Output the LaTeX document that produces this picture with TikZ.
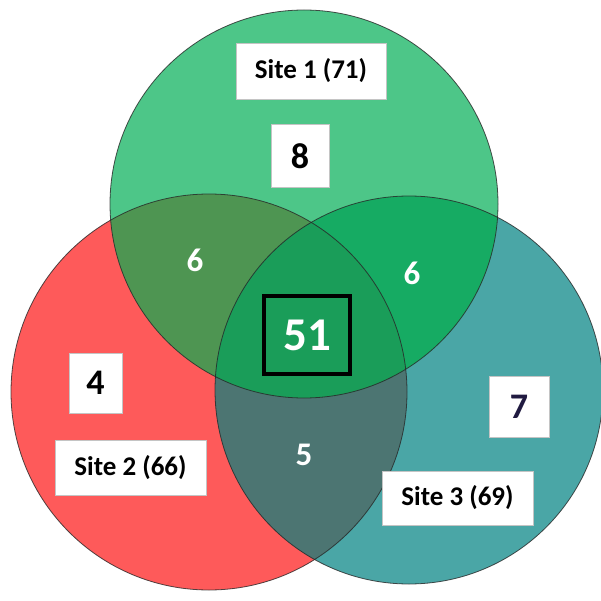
\documentclass[tikz,border=0pt]{standalone}
\usepackage{fontspec}
\setmainfont{Carlito}
\definecolor{redc}{HTML}{FE5A5A}
\definecolor{tealc}{HTML}{4AA6A6}
\definecolor{greenc}{HTML}{4DC688}
\definecolor{rgc}{HTML}{4E9552}
\definecolor{gtc}{HTML}{16AB63}
\definecolor{rtc}{HTML}{4C7572}
\definecolor{allc}{HTML}{1A9D59}
\definecolor{boxgray}{HTML}{C4C4C4}
\definecolor{sevenc}{HTML}{201A40}
\tikzset{
  outline/.style={draw=black!85, line width=0.8pt, draw opacity=0.8},
  lblbox/.style={draw=boxgray, fill=white, line width=0.8pt, inner sep=0pt, font=\fontsize{27}{30}\selectfont\bfseries},
  numbox/.style={draw=boxgray, fill=white, line width=0.8pt, inner sep=0pt, font=\fontsize{36}{38}\selectfont\bfseries},
  wnum/.style={text=white, font=\fontsize{33}{35}\selectfont\bfseries, inner sep=0pt}
}
\begin{document}
\begin{tikzpicture}[x=1pt,y=-1pt]
\useasboundingbox (0,0) rectangle (601,601);
\def\Gc{(304,204) circle (194)}
\def\Rc{(209,392) circle (198)}
\def\Tc{(409,390) circle (194)}
\fill[redc] \Rc;
\fill[tealc] \Tc;
\fill[greenc] \Gc;
\begin{scope}\clip \Rc; \fill[rgc] \Gc; \end{scope}
\begin{scope}\clip \Tc; \fill[gtc] \Gc; \end{scope}
\begin{scope}\clip \Rc; \fill[rtc] \Tc; \end{scope}
\begin{scope}\clip \Rc; \clip \Tc; \fill[allc] \Gc; \end{scope}
\draw[outline] \Rc;
\draw[outline] \Tc;
\draw[outline] \Gc;
% labels
\node[lblbox, minimum width=150, minimum height=56] (s1) at (311,71) {Site 1 (71)};
\node[numbox, minimum width=58, minimum height=63] (n8) at (300,156) {8};
\node[numbox, minimum width=53, minimum height=60] (n4) at (95.5,383) {4};
\node[lblbox, minimum width=151, minimum height=55] (s2) at (130.5,468) {Site 2 (66)};
\node[numbox, minimum width=60, minimum height=61, text=sevenc] (n7) at (519,407) {7};
\node[lblbox, minimum width=151, minimum height=54] (s3) at (457.5,498) {Site 3 (69)};
\node[draw=black, line width=4pt, minimum width=86, minimum height=78, inner sep=0pt, text=white, font=\fontsize{47}{49}\selectfont\bfseries] (n51) at (307,335) {51};
\node[wnum] (n6a) at (195,260) {6};
\node[wnum] (n6b) at (412,273) {6};
\node[wnum] (n5) at (304,455) {5};
\end{tikzpicture}
\end{document}
